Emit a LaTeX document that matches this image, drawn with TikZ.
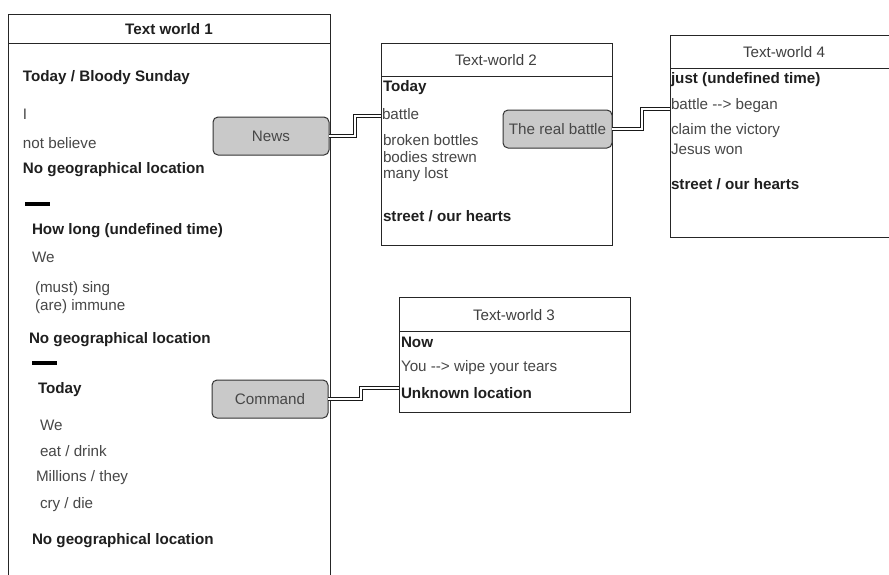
\documentclass[tikz,border=0pt]{standalone}
\usepackage{fontspec}
\setmainfont{Liberation Sans}
\begin{document}
\begin{tikzpicture}[x=1pt,y=-1pt,
  every node/.style={inner sep=0pt, outer sep=0pt},
  world/.style={draw=black!85, line width=1pt, fill=white, rectangle, anchor=north west},
  lab/.style={anchor=west, font=\fontsize{15.2}{18}\selectfont, text=black!72},
  blab/.style={anchor=west, font=\fontsize{15.2}{18}\selectfont\bfseries, text=black!88},
  ttl/.style={font=\fontsize{15.2}{18}\selectfont, text=black!75},
  relbox/.style={draw=black!80, line width=1pt, fill=black!21, rounded corners=5pt, font=\fontsize{15.2}{18}\selectfont, text=black!72, anchor=north west},
  link/.style={draw=black!90, double=white, double distance=2.6pt, line width=0.9pt},
  bar/.style={line width=3.2pt, draw=black}
]
\useasboundingbox (0,0) rectangle (889,574);
\begin{scope}
\clip (0,0) rectangle (889,574);
% Text world 1
\node[world, minimum width=322pt, minimum height=600pt] (tw1) at (8,14) {};
\draw[line width=1pt, draw=black!85] (8,43) -- (330,43);
\node[ttl, font=\fontsize{15.2}{18}\selectfont\bfseries, text=black!88] (tw1t) at (169,29) {Text world 1};
\node[blab] (a1) at (23,78) {Today / Bloody Sunday};
\node[lab] (a2) at (23,114) {I};
\node[lab] (a3) at (23,143) {not believe};
\node[blab] (a4) at (23,170) {No geographical location};
\coordinate (d1s) at (25,204); \coordinate (d1e) at (50,204);
\draw[bar] (d1s) -- (d1e);
\node[blab] (a5) at (32,231) {How long (undefined time)};
\node[lab] (a6) at (32,257) {We};
\node[lab] (a7) at (35,289) {(must) sing};
\node[lab] (a8) at (35,307) {(are) immune};
\node[blab] (a9) at (29,340) {No geographical location};
\coordinate (d2s) at (32,363); \coordinate (d2e) at (57,363);
\draw[bar] (d2s) -- (d2e);
\node[blab] (a10) at (38,390) {Today};
\node[lab] (a11) at (40,425) {We};
\node[lab] (a12) at (40,451) {eat / drink};
\node[lab] (a13) at (36,478) {Millions / they};
\node[lab] (a14) at (40,505) {cry / die};
\node[blab] (a15) at (32,541) {No geographical location};
% relation boxes in TW1
\node[relbox, minimum width=116pt, minimum height=38pt] (news) at (213,117) {News};
\node[relbox, minimum width=116pt, minimum height=38pt] (cmd) at (212,380) {Command};
% Text world 2
\node[world, minimum width=231pt, minimum height=202pt] (tw2) at (381,43) {};
\draw[line width=1pt, draw=black!85] (381,76) -- (612,76);
\node[ttl] (tw2t) at (496,60) {Text-world 2};
\node[blab] (b1) at (383,88) {Today};
\node[lab] (b2) at (382,114) {battle};
\node[lab] (b3) at (383,140) {broken bottles};
\node[lab] (b4) at (383,157.5) {bodies strewn};
\node[lab] (b5) at (383,175) {many lost};
\node[blab] (b6) at (383,216) {street / our hearts};
\node[relbox, minimum width=109pt, minimum height=38pt] (real) at (503,110) {The real battle};
% Text world 4
\node[world, minimum width=260pt, minimum height=202pt] (tw4) at (670,35) {};
\draw[line width=1pt, draw=black!85] (670,68) -- (930,68);
\node[ttl] (tw4t) at (784,52) {Text-world 4};
\node[blab] (c1) at (671,80) {just (undefined time)};
\node[lab] (c2) at (671,106) {battle -{}-{}> began};
\node[lab] (c3) at (671,131) {claim the victory};
\node[lab] (c4) at (671,149) {Jesus won};
\node[blab] (c5) at (671,184) {street / our hearts};
% Text world 3
\node[world, minimum width=231pt, minimum height=115pt] (tw3) at (399,297) {};
\draw[line width=1pt, draw=black!85] (399,331) -- (630,331);
\node[ttl] (tw3t) at (514,315) {Text-world 3};
\node[blab] (e1) at (401,342) {Now};
\node[lab] (e2) at (401,368) {You -{}-{}> wipe your tears};
\node[blab] (e3) at (401,393) {Unknown location};
% connectors
\coordinate (n2) at (381,116);
\coordinate (r4) at (670,109);
\coordinate (c3p) at (399,388);
\draw[link] (news.east) -- ++(26,0) |- (n2);
\draw[link] (real.east) -- ++(30,0) |- (r4);
\draw[link] (cmd.east) -- ++(33,0) |- (c3p);
\end{scope}
\end{tikzpicture}
\end{document}
